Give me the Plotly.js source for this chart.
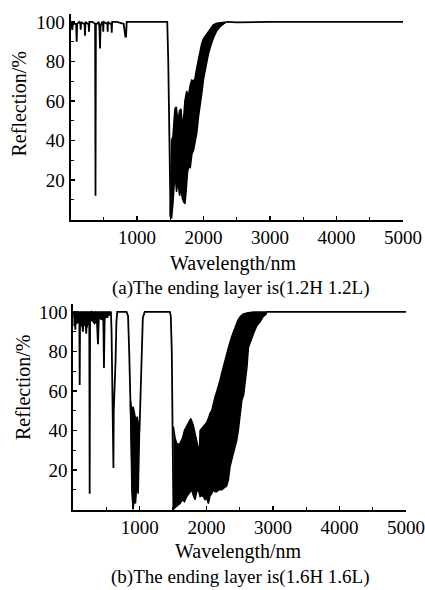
<!DOCTYPE html>
<html>
<head>
<meta charset="utf-8">
<script src="https://cdn.plot.ly/plotly-3.0.1.min.js"></script>
<style>html,body{margin:0;padding:0;background:#fff;}#chart{width:425px;height:590px;}</style>
</head>
<body>
<div id="chart"></div>
<script>
// ---------- Panel (a): ending layer 1.2H 1.2L ----------
var aLineWl = [0, 15, 27, 40, 60, 85, 93, 100, 130, 148, 154, 160, 200, 212, 218, 225, 262, 272, 278, 284, 330, 370, 376, 382, 395, 425, 435, 444, 452, 475, 488, 493, 498, 540, 554, 559, 564, 600, 615, 620, 626, 700, 800, 825, 835, 845, 900, 1100, 1300, 1455, 1470, 1490, 1505];
var aLineR  = [100, 99, 96, 100, 99, 99, 90, 99, 100, 99, 96, 100, 99, 99, 93, 100, 99, 99, 95, 100, 100, 99, 12, 99, 99, 100, 97, 86.5, 98, 100, 99, 95, 100, 99, 99, 95, 100, 99, 99, 94.5, 100, 100, 99, 92.5, 92.5, 100, 100, 100, 100, 100, 80, 30, 1];
var aBandUpWl = [1500, 1520, 1540, 1570, 1590, 1615, 1640, 1660, 1690, 1720, 1747, 1770, 1800, 1822, 1850, 1872, 1900, 1922, 1950, 1972, 2000, 2048, 2100, 2147, 2200, 2273, 2350];
var aBandUpR  = [2, 40, 42, 56, 57, 50, 55, 56, 46, 60, 65, 62, 68, 70.5, 70, 71.5, 77, 81, 85, 89, 91.5, 94, 96.5, 98.5, 99.3, 99.6, 100];
var aBandLoWl = [1500, 1520, 1540, 1560, 1575, 1595, 1615, 1640, 1660, 1680, 1700, 1722, 1740, 1760, 1780, 1800, 1825, 1850, 1875, 1900, 1925, 1950, 1975, 2000, 2040, 2075, 2110, 2150, 2200, 2250, 2300, 2350];
var aBandLoR  = [2, 0.5, 8, 18, 22, 14, 20, 12, 16, 11, 9, 8, 15, 24, 27, 26, 33, 35, 40, 44, 52, 59, 64, 71, 78, 84, 88, 92, 95.5, 97.6, 99, 100];
var aTailWl = [2350, 2500, 3000, 4000, 5000];
var aTailR  = [100, 99.8, 100, 100, 100];

// ---------- Panel (b): ending layer 1.6H 1.6L ----------
var bLineWl = [0, 10, 20, 30, 38, 50, 70, 90, 96, 102, 120, 145, 155, 175, 195, 205, 225, 240, 246, 252, 270, 290, 311, 325, 350, 371, 385, 400, 421, 435, 450, 461, 472, 490, 511, 525, 545, 565, 575, 585, 598, 603, 608, 620, 635, 648, 660, 800, 823, 840, 855, 870, 885, 898];
var bLineR  = [100, 97, 100, 91, 100, 98, 100, 99, 63, 99, 100, 90, 100, 99, 89, 100, 99, 98, 8, 99, 100, 99, 95, 100, 99, 83.6, 99, 100, 96, 100, 99, 71.6, 99, 100, 97, 100, 99, 100, 90, 60, 50, 21, 50, 58, 75, 95, 100, 100, 98, 80, 55, 30, 8, 0];
var bNotchUpWl = [860, 880, 900, 920, 940, 960, 980, 995];
var bNotchUpR  = [55, 50, 52, 48, 45, 47, 42, 40];
var bNotchLoWl = [860, 880, 898, 915, 935, 955, 975, 995];
var bNotchLoR  = [55, 10, 0, 5, 3, 13, 8, 40];
var bMidWl = [995, 1010, 1025, 1045, 1073, 1300, 1450, 1465, 1480, 1495, 1504];
var bMidR  = [40, 60, 85, 97, 100, 100, 100, 98, 80, 30, 0];
var bTopLoWl = [0, 40, 80, 120, 160, 200, 240, 280, 320, 360, 400, 440, 480, 520, 560];
var bTopLoR  = [93, 94, 95, 93, 94, 92, 95, 96, 94, 96, 97, 96, 97, 98, 99];
var bBandUpWl = [1504, 1530, 1554, 1580, 1604, 1640, 1670, 1704, 1735, 1765, 1800, 1830, 1860, 1895, 1905, 1930, 1955, 1980, 2005, 2030, 2055, 2080, 2105, 2130, 2155, 2180, 2206, 2230, 2256, 2280, 2306, 2340, 2381, 2410, 2432, 2470, 2507, 2550, 2607, 2650, 2707, 2800, 2900];
var bBandUpR  = [42, 36, 33.5, 33, 33.5, 36, 40, 42, 44, 46, 43, 38.6, 34, 28.6, 40, 41, 42, 43, 44, 46, 48.7, 50, 54, 57, 59.6, 62, 65.6, 69, 72.4, 76, 79, 83, 87.5, 90, 92.6, 95.5, 97.6, 98.8, 99.4, 99.8, 100, 100, 100];
var bBandLoWl = [1504, 1530, 1560, 1604, 1640, 1670, 1704, 1740, 1780, 1805, 1830, 1855, 1880, 1905, 1930, 1955, 1980, 2005, 2030, 2055, 2080, 2105, 2130, 2155, 2190, 2231, 2270, 2306, 2330, 2356, 2380, 2406, 2430, 2456, 2480, 2500, 2532, 2560, 2582, 2610, 2632, 2670, 2707, 2757, 2807, 2850, 2900];
var bBandLoR  = [0, 1, 2, 3, 5, 4, 6.5, 8, 10, 7, 5, 9, 10, 6.5, 7, 6.5, 5, 6, 3, 7, 8, 10, 9, 9, 10, 10, 11, 12, 15, 21.7, 25, 28.5, 31, 35, 40, 45, 55, 58, 64, 72, 82, 86, 89, 93, 95, 97.5, 99];
var bTailWl = [2900, 3500, 4000, 4500, 5000];
var bTailR  = [100, 100, 100, 100, 100];

// ---------- labels ----------
var xTickVals = [1000, 2000, 3000, 4000, 5000];
var xTickText = ["1000", "2000", "3000", "4000", "5000"];
var yTickVals = [20, 40, 60, 80, 100];
var yTickText = ["20", "40", "60", "80", "100"];
var yTitle = "Reflection/%";
var xTitle = "Wavelength/nm";
var captionA = "(a)The ending layer is(1.2H 1.2L)";
var captionB = "(b)The ending layer is(1.6H 1.6L)";

function band(upX, upY, loX, loY, xa, ya) {
  return {
    x: upX.concat(loX.slice().reverse()),
    y: upY.concat(loY.slice().reverse()),
    xaxis: xa, yaxis: ya, mode: 'lines', fill: 'toself',
    fillcolor: '#000', line: {color: '#000', width: 1.5}, hoverinfo: 'skip'
  };
}
function line(x, y, xa, ya) {
  return {x: x, y: y, xaxis: xa, yaxis: ya, mode: 'lines',
          line: {color: '#000', width: 1.8}, hoverinfo: 'skip'};
}

var topFull = bTopLoWl.map(function(){ return 100; });

var data = [
  line(aLineWl, aLineR, 'x', 'y'),
  band(aBandUpWl, aBandUpR, aBandLoWl, aBandLoR, 'x', 'y'),
  line(aTailWl, aTailR, 'x', 'y'),
  band(bTopLoWl, topFull, bTopLoWl, bTopLoR, 'x2', 'y2'),
  line(bLineWl, bLineR, 'x2', 'y2'),
  band(bNotchUpWl, bNotchUpR, bNotchLoWl, bNotchLoR, 'x2', 'y2'),
  line(bMidWl, bMidR, 'x2', 'y2'),
  band(bBandUpWl, bBandUpR, bBandLoWl, bBandLoR, 'x2', 'y2'),
  line(bTailWl, bTailR, 'x2', 'y2')
];

var fontTick = {family: 'Liberation Serif, Times New Roman, serif', size: 19, color: '#000'};
var fontTitle = {family: 'Liberation Serif, Times New Roman, serif', size: 20, color: '#000'};

function xAxis(domain, anchor) {
  return {
    domain: domain, anchor: anchor, range: [0, 5000],
    showgrid: false, zeroline: false, showline: true, linecolor: '#000', linewidth: 2,
    ticks: 'inside', ticklen: 4, tickwidth: 1.3, tickcolor: '#000',
    tickvals: xTickVals, ticktext: xTickText, tickfont: fontTick,
    minor: {ticks: 'inside', ticklen: 3, tickwidth: 1.3, tickcolor: '#000', dtick: 500, showgrid: false},
    fixedrange: true
  };
}
function yAxis(domain, anchor) {
  return {
    domain: domain, anchor: anchor, range: [0, 104],
    showgrid: false, zeroline: false, showline: true, linecolor: '#000', linewidth: 2,
    ticks: 'inside', ticklen: 4, tickwidth: 1.3, tickcolor: '#000',
    tickvals: yTickVals, ticktext: yTickText, tickfont: fontTick,
    minor: {ticks: 'inside', ticklen: 3, tickwidth: 1.3, tickcolor: '#000', dtick: 10, showgrid: false},
    fixedrange: true
  };
}

var layout = {
  width: 425, height: 590,
  margin: {l: 0, r: 0, t: 0, b: 0},
  paper_bgcolor: '#fff', plot_bgcolor: '#fff',
  showlegend: false,
  xaxis: xAxis([70.5/425, 403/425], 'y'),
  yaxis: yAxis([1 - 219.5/590, 1 - 14/590], 'x'),
  xaxis2: xAxis([73.3/425, 406/425], 'y2'),
  yaxis2: yAxis([1 - 509.5/590, 1 - 304/590], 'x2'),
  annotations: [
    {text: yTitle, xref: 'paper', yref: 'paper', x: 18.5/425, y: 1 - 104/590, textangle: -90, showarrow: false, font: fontTitle, xanchor: 'center', yanchor: 'middle'},
    {text: xTitle, xref: 'paper', yref: 'paper', x: 233/425, y: 1 - 263/590, showarrow: false, font: fontTitle, xanchor: 'center', yanchor: 'middle'},
    {text: captionA, xref: 'paper', yref: 'paper', x: 240/425, y: 1 - 288/590, showarrow: false, font: {family: fontTitle.family, size: 19, color: '#000'}, xanchor: 'center', yanchor: 'middle'},
    {text: yTitle, xref: 'paper', yref: 'paper', x: 22.5/425, y: 1 - 387.5/590, textangle: -90, showarrow: false, font: fontTitle, xanchor: 'center', yanchor: 'middle'},
    {text: xTitle, xref: 'paper', yref: 'paper', x: 238/425, y: 1 - 551/590, showarrow: false, font: fontTitle, xanchor: 'center', yanchor: 'middle'},
    {text: captionB, xref: 'paper', yref: 'paper', x: 240/425, y: 1 - 577/590, showarrow: false, font: {family: fontTitle.family, size: 19, color: '#000'}, xanchor: 'center', yanchor: 'middle'}
  ]
};

Plotly.newPlot('chart', data, layout, {staticPlot: true, displayModeBar: false});
</script>
</body>
</html>
